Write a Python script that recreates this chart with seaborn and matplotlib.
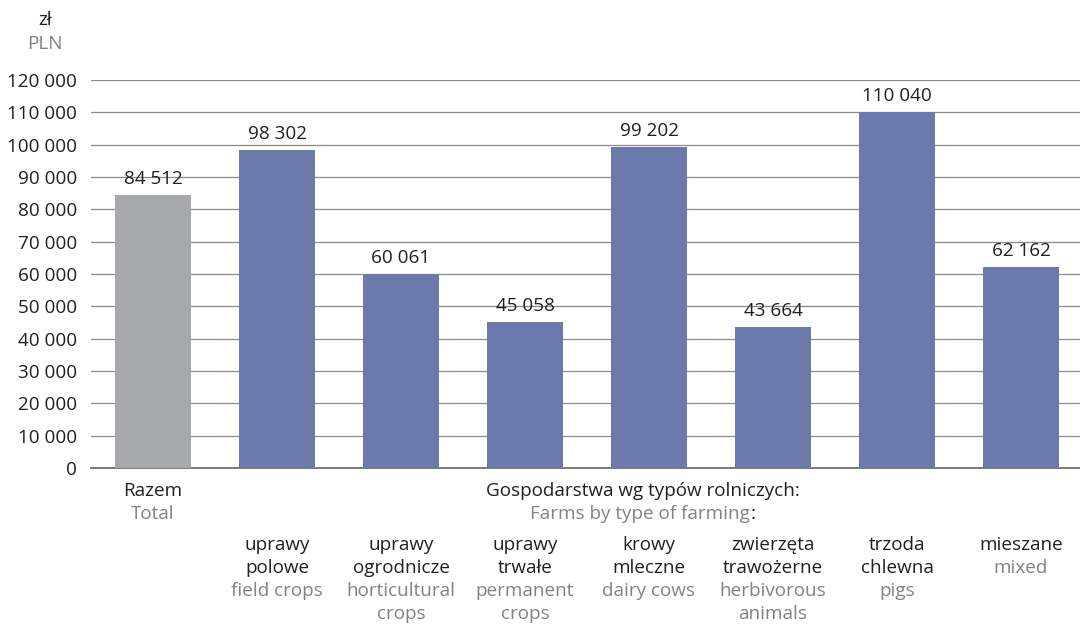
import matplotlib
matplotlib.use("Agg")
import matplotlib.pyplot as plt
import matplotlib.transforms as mtransforms
import seaborn as sns
import pandas as pd

categories = ["Razem", "uprawy polowe", "uprawy ogrodnicze", "uprawy trwałe",
              "krowy mleczne", "zwierzęta trawożerne", "trzoda chlewna", "mieszane"]
values = [84512, 98302, 60061, 45058, 99202, 43664, 110040, 62162]
labels_pl = [["uprawy", "polowe"], ["uprawy", "ogrodnicze"], ["uprawy", "trwałe"],
             ["krowy", "mleczne"], ["zwierzęta", "trawożerne"], ["trzoda", "chlewna"],
             ["mieszane"]]
labels_en = [["field crops"], ["horticultural", "crops"], ["permanent", "crops"],
             ["dairy cows"], ["herbivorous", "animals"], ["pigs"], ["mixed"]]
yticks = list(range(0, 120001, 10000))

GRAY_BAR = "#a7a8ac"
BLUE_BAR = "#6b7aab"
BLACK = "#231f20"
GRAY_TXT = "#808285"
FS = 13.6

sns.set_theme(style="white")
plt.rcParams["font.family"] = ["Open Sans", "DejaVu Sans"]

df = pd.DataFrame({"cat": categories, "value": values})

fig = plt.figure(figsize=(10.8, 6.24), dpi=100)
ax = fig.add_axes([91 / 1080, 1 - 468 / 624, (1080 - 91) / 1080, 388 / 624])

palette = [GRAY_BAR] + [BLUE_BAR] * 7
sns.barplot(data=df, x="cat", y="value", hue="cat", palette=palette,
            width=0.61, legend=False, ax=ax, saturation=1, zorder=3,
            linewidth=0, edgecolor="none")

ax.set_ylim(0, 120000)
ax.set_xlim(-0.5, 7.5 - 3 / 124)
ax.set_yticks(yticks)
ax.set_yticklabels([f"{v:,}".replace(",", " ") for v in yticks],
                   fontsize=FS, color=BLACK)
ax.tick_params(axis="y", length=0, pad=10)
ax.set_xticks([])
ax.set_xlabel("")
ax.set_ylabel("")
ax.grid(axis="y", color="#8a8a8a", linewidth=0.9, zorder=0)
for s in ["top", "right", "left"]:
    ax.spines[s].set_visible(False)
ax.spines["bottom"].set_color("#6d6e71")
ax.spines["bottom"].set_linewidth(1.3)

# value labels
for i, v in enumerate(values):
    ax.annotate(f"{v:,}".replace(",", " "), (i, v), xytext=(0, 5),
                textcoords="offset points", ha="center", va="bottom",
                fontsize=FS, color=BLACK)

# category labels below axis
tr = mtransforms.blended_transform_factory(ax.transData, fig.transFigure)


def fy(px):
    return 1 - px / 624


ax.text(0, fy(491), "Razem", transform=tr, ha="center", va="center",
        fontsize=FS, color=BLACK)
ax.text(0, fy(514), "Total", transform=tr, ha="center", va="center",
        fontsize=FS, color=GRAY_TXT)

ax.text(3.95, fy(491), "Gospodarstwa wg typów rolniczych:", transform=tr,
        ha="center", va="center", fontsize=FS, color=BLACK)
farms = ax.text(3.93, fy(514), "Farms by type of farming", transform=tr,
                ha="center", va="center", fontsize=FS, color=GRAY_TXT)
ax.annotate(":", xy=(1, 0.5), xycoords=farms, ha="left", va="center",
            fontsize=FS, color=BLACK)

for i, (pl, en) in enumerate(zip(labels_pl, labels_en), start=1):
    lines = [(t, BLACK) for t in pl] + [(t, GRAY_TXT) for t in en]
    for k, (t, c) in enumerate(lines):
        ax.text(i, fy(545 + 23 * k), t, transform=tr, ha="center", va="center",
                fontsize=FS, color=c)

fig.text(45 / 1080, fy(20), "zł", ha="center", va="center", fontsize=FS, color=BLACK)
fig.text(45 / 1080, fy(44), "PLN", ha="center", va="center", fontsize=FS, color=GRAY_TXT)

fig.savefig("out.png", dpi=100)
